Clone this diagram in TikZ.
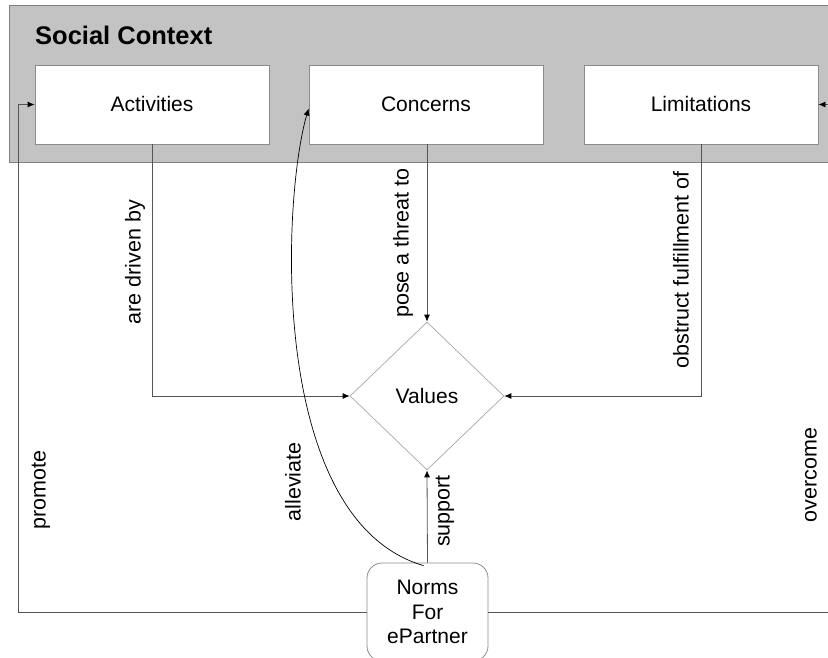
\documentclass[tikz,border=0pt]{standalone}
\usepackage{fontspec}
\setmainfont{Liberation Sans}
\usetikzlibrary{shapes.geometric,arrows.meta}
\definecolor{ctxfill}{HTML}{C3C3C3}
\definecolor{ctxline}{HTML}{808080}
\definecolor{boxline}{HTML}{8C8C8C}
\definecolor{conline}{HTML}{555555}
\definecolor{diamline}{HTML}{A8A8A8}
\begin{document}
\begin{tikzpicture}[x=1pt,y=-1pt,
  every node/.style={font=\fontsize{21}{24.5}\selectfont},
  ctxbox/.style={draw=boxline,line width=0.8pt,fill=white,minimum width=234pt,minimum height=79pt,inner sep=0pt,text height=14.5pt,text depth=0pt},
  valbox/.style={draw=diamline,line width=0.7pt,fill=white,diamond,minimum width=154pt,minimum height=148pt,inner sep=0pt},
  normbox/.style={draw=boxline,line width=0.8pt,fill=white,rounded corners=15pt,minimum width=121pt,minimum height=98pt,align=center,inner sep=0pt},
  conn/.style={draw=conline,line width=0.8pt,-{Latex[length=7pt,width=6pt,color=black]}},
  curv/.style={draw=black,line width=0.7pt,-{Latex[length=7pt,width=6pt,color=black]}},
  lbl/.style={rotate=90,inner sep=0pt,font=\fontsize{21.5}{24.5}\selectfont}
]
\useasboundingbox (0,0) rectangle (828,657);
% social context background
\fill[ctxfill] (9,5) rectangle (840,162);
\draw[ctxline,line width=0.8pt] (840,162) -- (9,162) -- (9,5) -- (840,5);
\node[anchor=base west,inner sep=0pt,font=\fontsize{25.5}{30}\selectfont\bfseries] (title) at (35,44) {Social Context};
% boxes
\node[ctxbox] (act) at (152,104.5) {Activities};
\node[ctxbox] (con) at (426,104.5) {Concerns};
\node[ctxbox] (lim) at (701,104.5) {Limitations};
\node[valbox] (val) at (427,396) {Values};
\node[normbox] (norms) at (427.5,612) {Norms\\For\\ePartner};
% helper coordinates
\coordinate (pl) at (18,612);
\coordinate (pr) at (836,612);
% connectors
\draw[conn] (act.south) |- (val.west);
\draw[conn] (con.south -| val.north) -- (val.north);
\draw[conn] (lim.south) |- (val.east);
\draw[conn] (norms.north) -- (val.south);
\draw[conn] (norms.west) -- (pl) |- (act.west);
\draw[conn] (norms.east) -- (pr) |- (lim.east);
\draw[curv] ([xshift=-4pt,yshift=-3pt]norms.north) .. controls (268,520) and (282,200) .. ([yshift=-4pt]con.west);
% labels
\node[lbl] (l1) at (135,262) {are driven by};
\node[lbl] (l2) at (403,243) {pose a threat to};
\node[lbl] (l3) at (681,270) {obstruct fulfillment of};
\node[lbl] (l4) at (41,490) {promote};
\node[lbl] (l5) at (293,482) {alleviate};
\node[lbl] (l6) at (811,475) {overcome};
\node[lbl] (l7) at (445,511) {support};
\end{tikzpicture}
\end{document}
